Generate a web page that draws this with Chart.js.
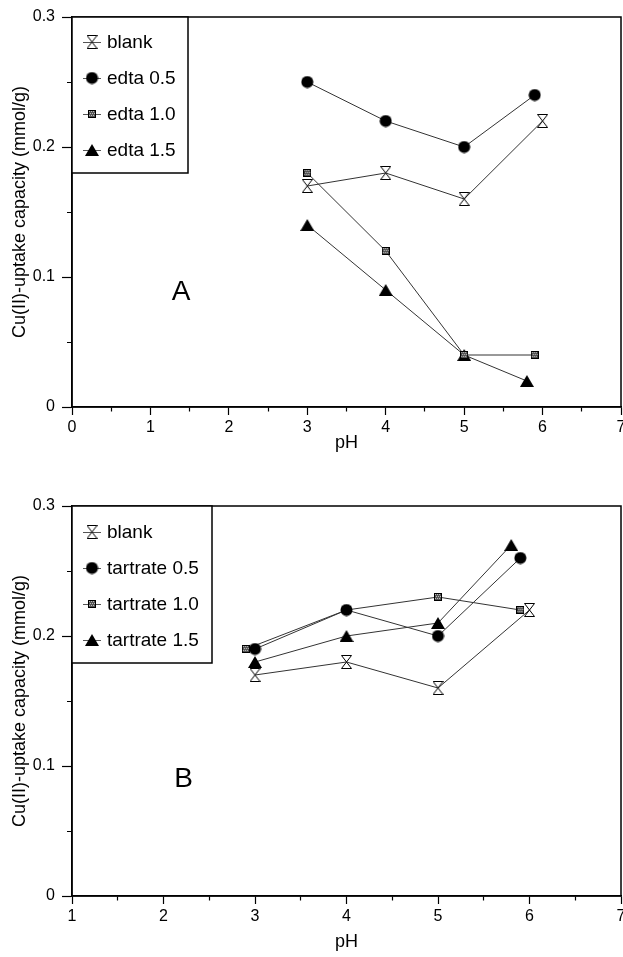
<!DOCTYPE html>
<html>
<head>
<meta charset="utf-8">
<script src="https://cdn.jsdelivr.net/npm/chart.js@4/dist/chart.umd.min.js"></script>
<style>
  html, body { margin: 0; padding: 0; background: #fff; }
  #wrapA { position: absolute; left: 0; top: 0; width: 623px; height: 470px; }
  #wrapB { position: absolute; left: 0; top: 480px; width: 623px; height: 477px; }
</style>
</head>
<body>
<div id="wrapA"><canvas id="chartA"></canvas></div>
<div id="wrapB"><canvas id="chartB"></canvas></div>
<script>
// Panel A - edta
const labelsA = ['blank', 'edta 0.5', 'edta 1.0', 'edta 1.5'];
const blankX = [3, 4, 5, 6];
const blankY = [0.17, 0.18, 0.16, 0.22];
const edta05X = [3, 4, 5, 5.9];
const edta05Y = [0.25, 0.22, 0.20, 0.24];
const edta10X = [3, 4, 5, 5.9];
const edta10Y = [0.18, 0.12, 0.04, 0.04];
const edta15X = [3, 4, 5, 5.8];
const edta15Y = [0.14, 0.09, 0.04, 0.02];

// Panel B - tartrate
const labelsB = ['blank', 'tartrate 0.5', 'tartrate 1.0', 'tartrate 1.5'];
const tart05X = [3, 4, 5, 5.9];
const tart05Y = [0.19, 0.22, 0.20, 0.26];
const tart10X = [2.9, 4, 5, 5.9];
const tart10Y = [0.19, 0.22, 0.23, 0.22];
const tart15X = [3, 4, 5, 5.8];
const tart15Y = [0.18, 0.20, 0.21, 0.27];

const FONT = '"Liberation Sans", Arial, Helvetica, sans-serif';

// marker images
function makeMarker(kind) {
    const c = document.createElement('canvas');
    const ctx = c.getContext('2d');
    if (kind === 'hourglass') {
        c.width = 11; c.height = 14;
        ctx.beginPath();
        ctx.moveTo(0.5, 0.5); ctx.lineTo(10.5, 0.5);
        ctx.lineTo(0.5, 13.5); ctx.lineTo(10.5, 13.5);
        ctx.closePath();
        ctx.fillStyle = '#fff'; ctx.fill();
        ctx.strokeStyle = '#000'; ctx.lineWidth = 1; ctx.stroke();
    } else if (kind === 'circle') {
        c.width = 13; c.height = 13;
        ctx.beginPath();
        ctx.arc(6.5, 6.5, 6, 0, Math.PI * 2);
        ctx.fillStyle = '#000'; ctx.fill();
    } else if (kind === 'square') {
        c.width = 8; c.height = 8;
        ctx.fillStyle = '#555'; ctx.fillRect(0, 0, 8, 8);
        ctx.fillStyle = '#bbb';
        for (let i = 1; i < 7; i += 2) {
            for (let j = 1; j < 7; j += 2) ctx.fillRect(i + (j % 4 === 1 ? 0 : 1), j, 1, 1);
        }
        ctx.strokeStyle = '#000'; ctx.lineWidth = 1; ctx.strokeRect(0.5, 0.5, 7, 7);
    } else {
        c.width = 14; c.height = 12;
        ctx.beginPath();
        ctx.moveTo(7, 0); ctx.lineTo(14, 12); ctx.lineTo(0, 12);
        ctx.closePath();
        ctx.fillStyle = '#000'; ctx.fill();
    }
    return c;
}

const markers = [makeMarker('hourglass'), makeMarker('circle'), makeMarker('square'), makeMarker('triangle')];

function toPoints(xs, ys) {
    return xs.map((x, i) => ({ x: x, y: ys[i] }));
}

function makeDataset(label, xs, ys, marker) {
    return {
        label: label,
        data: toPoints(xs, ys),
        borderColor: '#333',
        borderWidth: 1,
        pointStyle: marker,
        pointRadius: 6,
        pointHoverRadius: 6,
        fill: false,
        tension: 0
    };
}

// frame around the plot area
const framePlugin = {
    id: 'frame',
    afterDraw(chart) {
        const { ctx, chartArea } = chart;
        ctx.save();
        ctx.strokeStyle = '#000';
        ctx.lineWidth = 1.5;
        ctx.strokeRect(chartArea.left, chartArea.top, chartArea.right - chartArea.left, chartArea.bottom - chartArea.top);
        ctx.restore();
    }
};

// boxed legend inside the top-left corner
const boxLegend = {
    id: 'boxLegend',
    afterDraw(chart, args, opts) {
        const { ctx, chartArea } = chart;
        const left = chartArea.left, top = chartArea.top;
        ctx.save();
        ctx.fillStyle = '#fff';
        ctx.fillRect(left, top, opts.width, opts.height);
        ctx.strokeStyle = '#000';
        ctx.lineWidth = 1.5;
        ctx.strokeRect(left, top, opts.width, opts.height);
        ctx.font = '19px ' + FONT;
        ctx.textBaseline = 'middle';
        ctx.fillStyle = '#000';
        chart.data.datasets.forEach((ds, i) => {
            const y = top + opts.firstRow + i * opts.rowGap;
            ctx.strokeStyle = '#555';
            ctx.lineWidth = 1;
            ctx.beginPath();
            ctx.moveTo(left + 11, y + 0.5);
            ctx.lineTo(left + 29, y + 0.5);
            ctx.stroke();
            const m = ds.pointStyle;
            ctx.drawImage(m, left + 20 - m.width / 2, y - m.height / 2);
            ctx.fillText(ds.label, left + 35, y + 1);
        });
        ctx.restore();
    }
};

// panel letter
const panelLabel = {
    id: 'panelLabel',
    afterDraw(chart, args, opts) {
        const { ctx, scales } = chart;
        ctx.save();
        ctx.font = '28px ' + FONT;
        ctx.fillStyle = '#000';
        ctx.textAlign = 'center';
        ctx.textBaseline = 'middle';
        ctx.fillText(opts.text, scales.x.getPixelForValue(opts.x), scales.y.getPixelForValue(opts.y));
        ctx.restore();
    }
};

function isWhole(v, step) {
    return Math.abs(v / step - Math.round(v / step)) < 1e-6;
}

function buildOptions(xMin, padTop, xAxisHeight, titleBottom, legendSize, letter) {
    return {
        responsive: true,
        maintainAspectRatio: false,
        animation: false,
        layout: { autoPadding: false, padding: { top: padTop, right: 2, left: 0, bottom: 0 } },
        plugins: {
            legend: { display: false },
            tooltip: { enabled: false },
            boxLegend: legendSize,
            panelLabel: letter
        },
        scales: {
            x: {
                type: 'linear',
                min: xMin,
                max: 7,
                afterFit(scale) {
                    scale.height = xAxisHeight;
                    scale.paddingLeft = 0;
                    scale.paddingRight = 0;
                },
                ticks: {
                    stepSize: 0.5,
                    maxTicksLimit: 100,
                    autoSkip: false,
                    maxRotation: 0,
                    padding: 3,
                    color: '#000',
                    font: { family: FONT, size: 16 },
                    callback: v => isWhole(v, 1) ? String(Math.round(v)) : ''
                },
                grid: {
                    drawOnChartArea: false,
                    tickLength: 8,
                    tickColor: '#000',
                    tickWidth: 1.2,
                    tickBorderDash: ctx => (ctx.tick && !isWhole(ctx.tick.value, 1)) ? [4, 100] : []
                },
                border: { color: '#000', width: 1.5 },
                title: {
                    display: true,
                    text: 'pH',
                    color: '#000',
                    font: { family: FONT, size: 18 },
                    padding: { top: 4, bottom: titleBottom }
                }
            },
            y: {
                min: 0,
                max: 0.3,
                afterFit(scale) { scale.width = 72; },
                ticks: {
                    stepSize: 0.05,
                    maxTicksLimit: 100,
                    autoSkip: false,
                    padding: 7,
                    color: '#000',
                    font: { family: FONT, size: 16 },
                    callback: v => isWhole(v, 0.1) ? String(Math.round(v * 10) / 10) : ''
                },
                grid: {
                    drawOnChartArea: false,
                    tickLength: 10,
                    tickColor: '#000',
                    tickWidth: 1.2,
                    tickBorderDash: ctx => (ctx.tick && !isWhole(ctx.tick.value, 0.1)) ? [0, 5, 5, 100] : []
                },
                border: { color: '#000', width: 1.5 },
                title: {
                    display: true,
                    text: 'Cu(II)-uptake capacity (mmol/g)',
                    color: '#000',
                    font: { family: FONT, size: 18 },
                    padding: { top: 9, bottom: 0 }
                }
            }
        }
    };
}

new Chart(document.getElementById('chartA'), {
    type: 'line',
    data: {
        datasets: [
            makeDataset(labelsA[0], blankX, blankY, markers[0]),
            makeDataset(labelsA[1], edta05X, edta05Y, markers[1]),
            makeDataset(labelsA[2], edta10X, edta10Y, markers[2]),
            makeDataset(labelsA[3], edta15X, edta15Y, markers[3])
        ]
    },
    options: buildOptions(0, 17, 63, 16,
        { width: 116, height: 156, firstRow: 25, rowGap: 36 },
        { text: 'A', x: 1.39, y: 0.088 }),
    plugins: [framePlugin, boxLegend, panelLabel]
});

new Chart(document.getElementById('chartB'), {
    type: 'line',
    data: {
        datasets: [
            makeDataset(labelsB[0], blankX, blankY, markers[0]),
            makeDataset(labelsB[1], tart05X, tart05Y, markers[1]),
            makeDataset(labelsB[2], tart10X, tart10Y, markers[2]),
            makeDataset(labelsB[3], tart15X, tart15Y, markers[3])
        ]
    },
    options: buildOptions(1, 26, 61, 4,
        { width: 140, height: 157, firstRow: 26, rowGap: 36 },
        { text: 'B', x: 2.22, y: 0.09 }),
    plugins: [framePlugin, boxLegend, panelLabel]
});
</script>
</body>
</html>
